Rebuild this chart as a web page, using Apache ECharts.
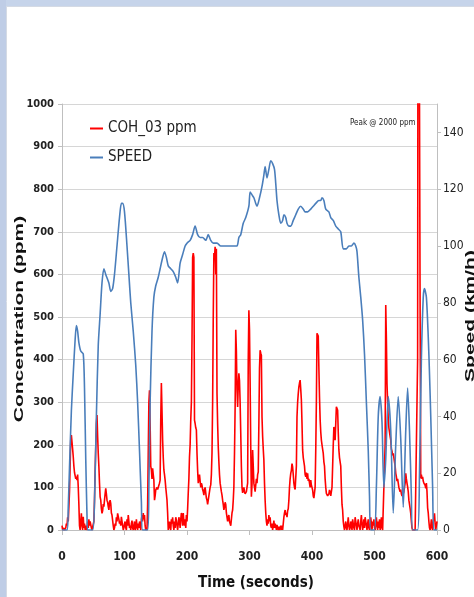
<!DOCTYPE html>
<html>
<head>
<meta charset="utf-8">
<script src="https://cdn.jsdelivr.net/npm/echarts/dist/echarts.min.js"></script>
<style>
html,body{margin:0;padding:0;background:#fff;}
#chart{width:474px;height:597px;}
</style>
</head>
<body>
<div id="chart"></div>
<script>
// ---- Data ----
// COH_03 concentration (ppm), one reading per second from t = 0 s to t = 600 s
const cohPpm = [
  10,0,0,5,0,0,5,15,10,30,
  20,20,90,150,211,223,227,190,172,150,
  135,133,120,125,117,130,101,60,10,0,
  20,39,10,0,31,5,15,0,10,5,
  0,20,5,25,10,20,20,5,0,0,
  0,20,70,140,196,250,270,220,180,149,
  110,78,70,50,39,45,61,55,70,85,
  98,85,70,65,55,47,65,70,62,40,
  35,31,10,0,5,15,10,30,20,39,
  40,25,15,20,10,31,35,10,0,5,
  15,20,5,0,25,10,35,20,5,10,
  0,15,22,5,0,10,20,0,5,25,
  10,0,15,5,20,10,0,25,35,20,
  40,25,35,10,0,5,0,60,180,300,
  328,250,150,141,120,145,130,117,70,80,
  94,90,100,95,98,105,110,117,260,345,
  280,211,170,141,130,117,100,85,70,40,
  0,10,20,5,0,25,15,30,10,0,
  20,5,30,23,10,0,15,30,20,5,
  25,40,30,10,40,20,10,25,5,35,
  20,50,87,120,172,200,258,300,446,640,
  650,640,258,250,240,235,180,140,110,120,
  130,115,100,110,105,95,90,82,95,100,
  87,75,70,60,70,80,90,100,106,130,
  180,300,500,650,640,665,600,660,321,250,
  196,160,130,110,100,90,82,70,60,47,
  55,65,60,40,30,20,30,35,20,15,
  10,25,40,47,70,101,180,289,470,420,
  330,289,340,368,350,300,227,150,100,87,
  95,100,90,85,82,90,100,110,400,516,
  470,345,196,78,106,188,150,110,100,90,
  105,120,110,130,136,250,380,422,415,410,
  266,220,190,164,110,70,40,20,10,25,
  15,35,20,30,10,5,15,0,10,22,
  5,15,10,0,12,5,0,8,0,5,
  10,0,10,0,15,30,40,47,35,40,
  30,45,50,70,100,120,133,140,156,148,
  130,110,100,95,94,150,266,300,320,336,
  345,352,330,305,250,188,170,160,150,130,
  125,135,120,133,115,120,110,100,117,105,
  100,94,80,75,78,100,188,300,462,465,
  455,380,313,260,230,211,200,190,180,160,
  150,120,100,86,90,80,78,85,94,90,
  80,78,100,149,200,242,230,211,250,289,
  290,281,230,188,170,160,150,100,60,47,
  20,8,0,10,20,5,0,15,30,10,
  0,5,20,10,0,25,15,5,0,30,
  20,10,0,15,25,10,5,0,20,35,
  15,0,10,25,5,30,20,10,0,15,
  25,5,0,10,30,15,0,20,10,25,
  5,0,15,30,10,0,20,5,25,0,
  10,30,5,0,0,0,0,200,528,450,
  344,300,260,240,230,220,211,190,185,175,
  180,180,160,150,133,125,115,120,110,100,
  101,90,95,85,80,78,85,90,94,110,
  133,120,110,101,90,70,60,50,39,20,
  5,0,0,0,0,0,0,0,0,400,
  2000,2000,2000,500,121,130,120,125,115,110,
  113,105,98,110,90,52,40,20,5,0,
  10,25,5,0,20,30,39,15,0,10,
  20
];

// SPEED (km/h) readings: time (s) and value
const speedTime = [
  0,8,10,12,15,18,21,23,25,27,30,34,36,38,40,41,49,52,55,58,
  61,64,67,70,75,78,81,84,88,92,95,97,100,104,107,110,114,118,121,124,
  127,129,137,139,141,144,147,150,154,157,160,164,167,170,174,178,182,185,189,193,
  197,200,205,209,213,217,221,225,230,234,238,242,248,254,260,264,270,275,280,283,
  286,290,294,299,301,304,307,310,312,316,320,323,325,328,331,334,337,340,342,344,
  347,350,353,355,358,360,363,366,370,374,378,382,386,389,393,398,402,406,411,414,
  416,419,422,427,430,434,438,442,446,450,455,459,463,467,470,472,475,478,481,484,
  487,490,492,494,500,503,506,509,512,515,518,522,526,530,534,538,542,546,550,553,
  556,559,561,569,572,575,578,580,583,586,588,590,593,595,600
];
const speedKmh = [
  0,0,8,22,42,55,67,72,70,66,63,62,50,25,5,0,0,10,40,65,
  76,87,92,90,87,84,85,90,100,110,115,115,112,100,90,80,70,58,45,28,
  10,0,0,15,45,70,82,86,89,92,95,98,96,93,92,91,89,87,94,97,
  100,101,102,104,107,104,103,103,102,104,102,101,101,100,100,100,100,100,100,103,
  104,108,110,114,119,118,117,115,114,117,121,125,128,124,127,130,129,127,122,116,
  111,108,109,111,110,108,107,107,109,111,113,114,113,112,112,113,114,115,116,116,
  117,116,113,112,110,109,107,106,105,99,99,100,100,101,100,98,89,82,74,62,
  45,28,12,0,0,15,40,47,38,15,25,47,35,6,30,47,32,8,35,50,
  35,12,0,0,20,60,82,85,82,68,55,40,15,0,0
];

// Axis ticks / labels
const timeTicks = {min: 0, max: 600, step: 100};
const concTicks = {min: 0, max: 1000, step: 100};
const speedTicks = {min: 0, max: 150, step: 20};
const seriesNames = ['COH_03 ppm', 'SPEED'];
const peakNote = 'Peak @ 2000 ppm';
const axisTitles = {x: 'Time (seconds)', yLeft: 'Concentration (ppm)', yRight: 'Speed (km/h)'};

// ---- Chart ----
const NARROW = '"Liberation Sans Narrow", "Arial Narrow", "DejaVu Sans Condensed", sans-serif';
const cohData = cohPpm.map((v, i) => [i, v]);
const speedData = speedTime.map((t, i) => [t, speedKmh[i]]);
const plain = v => String(v);

const chart = echarts.init(document.getElementById('chart'), null, {renderer: 'canvas'});
chart.setOption({
  backgroundColor: '#ffffff',
  animation: false,
  grid: {left: 62, right: 37, top: 104, bottom: 67, containLabel: false, outerBoundsMode: 'none'},
  legend: {
    orient: 'vertical', left: 85, top: 116, itemGap: 14,
    icon: 'rect', itemWidth: 13, itemHeight: 2,
    textStyle: {fontFamily: NARROW, fontSize: 15, color: '#222'},
    data: seriesNames
  },
  xAxis: {
    type: 'value', min: timeTicks.min, max: timeTicks.max, interval: timeTicks.step,
    axisLine: {show: true, lineStyle: {color: '#bfbfbf', width: 1}},
    axisTick: {show: true, length: 5, lineStyle: {color: '#bfbfbf'}},
    splitLine: {show: false},
    axisLabel: {margin: 21, formatter: plain, fontFamily: NARROW, fontWeight: 'bold', fontSize: 12, color: '#222'}
  },
  yAxis: [
    {
      type: 'value', position: 'left', min: concTicks.min, max: concTicks.max, interval: concTicks.step,
      axisLine: {show: true, lineStyle: {color: '#bfbfbf', width: 1}},
      axisTick: {show: true, length: 4, lineStyle: {color: '#bfbfbf'}},
      splitLine: {show: true, lineStyle: {color: '#d6d6d6', width: 1}},
      axisLabel: {margin: 8, formatter: plain, fontFamily: NARROW, fontWeight: 'bold', fontSize: 11, color: '#222'}
    },
    {
      type: 'value', position: 'right', min: speedTicks.min, max: speedTicks.max, interval: speedTicks.step,
      axisLine: {show: true, lineStyle: {color: '#bfbfbf', width: 1}},
      axisTick: {show: true, length: 4, lineStyle: {color: '#bfbfbf'}},
      splitLine: {show: false},
      axisLabel: {margin: 6, formatter: plain, fontFamily: NARROW, fontSize: 12, color: '#222', showMaxLabel: false}
    }
  ],
  series: [
    {
      name: seriesNames[0], type: 'line', yAxisIndex: 0, data: cohData,
      showSymbol: false, symbol: 'none', clip: true,
      lineStyle: {color: '#ff0000', width: 1.6}, itemStyle: {color: '#ff0000'}
    },
    {
      name: seriesNames[1], type: 'line', yAxisIndex: 1, data: speedData,
      showSymbol: false, symbol: 'none', smooth: 0.25, clip: true,
      lineStyle: {color: '#4a7ebb', width: 1.6}, itemStyle: {color: '#4a7ebb'}
    }
  ],
  graphic: [
    {type: 'rect', shape: {x: 0, y: 0, width: 474, height: 6}, style: {fill: '#c6d4ea'}, silent: true},
    {type: 'rect', shape: {x: 0, y: 0, width: 6, height: 597}, style: {fill: '#bfcde6'}, silent: true},
    {type: 'line', shape: {x1: 6, y1: 6.5, x2: 474, y2: 6.5}, style: {stroke: '#d4dae4', lineWidth: 1}, silent: true},
    {type: 'line', shape: {x1: 6.5, y1: 6, x2: 6.5, y2: 597}, style: {stroke: '#d4dae4', lineWidth: 1}, silent: true},
    {type: 'text', x: 350, y: 122.5,
      style: {text: peakNote, font: '8px ' + NARROW, fill: '#222', align: 'left', verticalAlign: 'middle', textAlign: 'left', textVerticalAlign: 'middle'}},
    {type: 'text', x: 256, y: 583,
      style: {text: axisTitles.x, font: 'bold 15px ' + NARROW, fill: '#111', align: 'center', verticalAlign: 'middle', textAlign: 'center', textVerticalAlign: 'middle'}},
    {type: 'text', x: 19.5, y: 319, rotation: Math.PI / 2, scaleY: 0.65,
      style: {text: axisTitles.yLeft, font: 'bold 21px "Liberation Sans", Arial, sans-serif', fill: '#111', align: 'center', verticalAlign: 'middle', textAlign: 'center', textVerticalAlign: 'middle'}},
    {type: 'text', x: 470.5, y: 316, rotation: Math.PI / 2, scaleY: 0.65,
      style: {text: axisTitles.yRight, font: 'bold 21px "Liberation Sans", Arial, sans-serif', fill: '#111', align: 'center', verticalAlign: 'middle', textAlign: 'center', textVerticalAlign: 'middle'}}
  ]
});
</script>
</body>
</html>
